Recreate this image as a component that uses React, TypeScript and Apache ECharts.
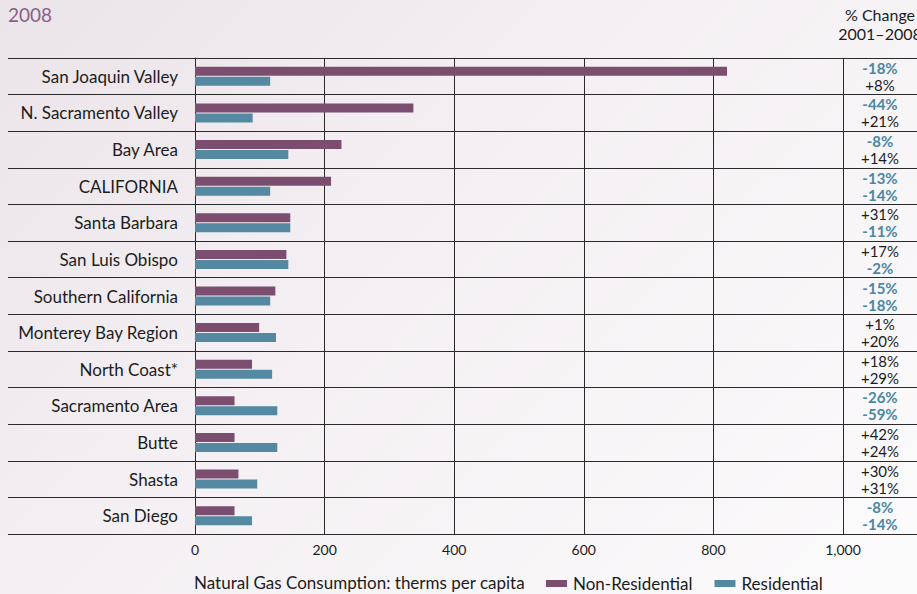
import React, { useEffect, useRef } from "react";
import * as echarts from "echarts";

const regions = [
  "San Joaquin Valley",
  "N. Sacramento Valley",
  "Bay Area",
  "CALIFORNIA",
  "Santa Barbara",
  "San Luis Obispo",
  "Southern California",
  "Monterey Bay Region",
  "North Coast*",
  "Sacramento Area",
  "Butte",
  "Shasta",
  "San Diego",
];

const nonResidential = [821, 337, 226, 210, 147, 141, 124, 99, 88, 61, 61, 67, 61];
const residential = [116, 89, 144, 116, 147, 144, 116, 125, 119, 127, 127, 96, 88];

const changeNonRes = ["-18%", "-44%", "-8%", "-13%", "+31%", "+17%", "-15%", "+1%", "+18%", "-26%", "+42%", "+30%", "-8%"];
const changeRes = ["+8%", "+21%", "+14%", "-14%", "-11%", "-2%", "-18%", "+20%", "+29%", "-59%", "+24%", "+31%", "-14%"];

const xTicks = [0, 200, 400, 600, 800, 1000];

const FONT = "Lato, 'Open Sans', sans-serif";
const NONRES_COLOR = "#7b4d6e";
const RES_COLOR = "#5589a2";
const NEG_COLOR = "#4a87a3";
const TEXT = "#1c1c1c";
const LINE = "#2a2a2a";

const fmtTick = (v: number) => (v >= 1000 ? v.toLocaleString("en-US") : String(v));
const pct = (s: string) => (s.startsWith("-") ? `{n|${s}}` : `{p|${s}}`);

export default function App() {
  const ref = useRef<HTMLDivElement>(null);

  useEffect(() => {
    if (!ref.current) return;
    const chart = echarts.init(ref.current, undefined, { renderer: "svg" });
    chart.setOption({
      animation: false,
      backgroundColor: "transparent",
      textStyle: { fontFamily: FONT },
      grid: [
        { left: 195, right: 74, top: 58, bottom: 60 },
        { left: 8, right: 0, top: 58, bottom: 60 },
      ],
      legend: {
        data: ["Non-Residential", "Residential"],
        left: 546,
        top: 575,
        icon: "rect",
        itemWidth: 21,
        itemHeight: 7,
        itemGap: 22,
        padding: 0,
        textStyle: { fontFamily: FONT, fontSize: 17, color: TEXT, padding: [0, 0, 0, 1] },
      },
      xAxis: [
        {
          type: "value",
          gridIndex: 0,
          min: xTicks[0],
          max: xTicks[xTicks.length - 1],
          interval: 200,
          axisLine: { show: true, lineStyle: { color: LINE, width: 1 } },
          axisTick: { show: false },
          axisLabel: {
            color: TEXT,
            fontSize: 14,
            fontFamily: FONT,
            margin: 8,
            formatter: (v: number) => fmtTick(v),
          },
          splitLine: { show: true, lineStyle: { color: LINE, width: 1 } },
        },
        { type: "value", gridIndex: 1, show: false, min: 0, max: 1 },
      ],
      yAxis: [
        {
          type: "category",
          gridIndex: 0,
          data: regions,
          inverse: true,
          axisLine: { show: true, lineStyle: { color: LINE, width: 1 } },
          axisTick: { show: false },
          axisLabel: { color: TEXT, fontSize: 17, fontFamily: FONT, margin: 17 },
          splitLine: { show: false },
        },
        {
          type: "category",
          gridIndex: 0,
          position: "right",
          data: regions,
          inverse: true,
          axisLine: { show: false },
          axisTick: { show: false },
          axisLabel: {
            align: "center",
            margin: 37,
            formatter: (_v: string, i: number) => `${pct(changeNonRes[i])}\n${pct(changeRes[i])}`,
            rich: {
              n: { color: NEG_COLOR, fontWeight: "bold", fontSize: 15, lineHeight: 17, fontFamily: FONT },
              p: { color: TEXT, fontSize: 15, lineHeight: 17, fontFamily: FONT },
            },
          },
        },
        {
          type: "category",
          gridIndex: 1,
          data: regions,
          inverse: true,
          axisLine: { show: false },
          axisTick: { show: false },
          axisLabel: { show: false },
          splitLine: { show: true, lineStyle: { color: LINE, width: 1 } },
        },
      ],
      graphic: [
        {
          type: "text",
          left: 8,
          top: 5,
          style: { text: "2008", fill: "#8b5f84", fontSize: 19, fontFamily: FONT },
        },
        {
          type: "text",
          x: 880,
          y: 5,
          style: {
            text: "% Change\n2001–2008",
            fill: TEXT,
            fontSize: 16,
            lineHeight: 19,
            align: "center",
            fontFamily: FONT,
          },
        },
        {
          type: "text",
          left: 194,
          top: 574,
          style: {
            text: "Natural Gas Consumption: therms per capita",
            fill: TEXT,
            fontSize: 17,
            fontFamily: FONT,
          },
        },
      ],
      series: [
        {
          name: "Non-Residential",
          type: "bar",
          xAxisIndex: 0,
          yAxisIndex: 0,
          data: nonResidential,
          barWidth: 9,
          barGap: "11%",
          itemStyle: { color: NONRES_COLOR },
        },
        {
          name: "Residential",
          type: "bar",
          xAxisIndex: 0,
          yAxisIndex: 0,
          data: residential,
          barWidth: 9,
          barGap: "11%",
          itemStyle: { color: RES_COLOR },
        },
        {
          name: "lines",
          type: "bar",
          xAxisIndex: 1,
          yAxisIndex: 2,
          data: regions.map(() => 0),
          silent: true,
          itemStyle: { color: "transparent" },
        },
      ],
    });
    return () => chart.dispose();
  }, []);

  return (
    <div
      style={{
        position: "absolute",
        left: 0,
        top: 0,
        width: 917,
        height: 594,
        background: "linear-gradient(135deg, #ebe4e9 0%, #f4f0f3 45%, #fcfbfc 100%)",
        overflow: "hidden",
      }}
    >
      <div ref={ref} style={{ width: 917, height: 594 }} />
    </div>
  );
}
